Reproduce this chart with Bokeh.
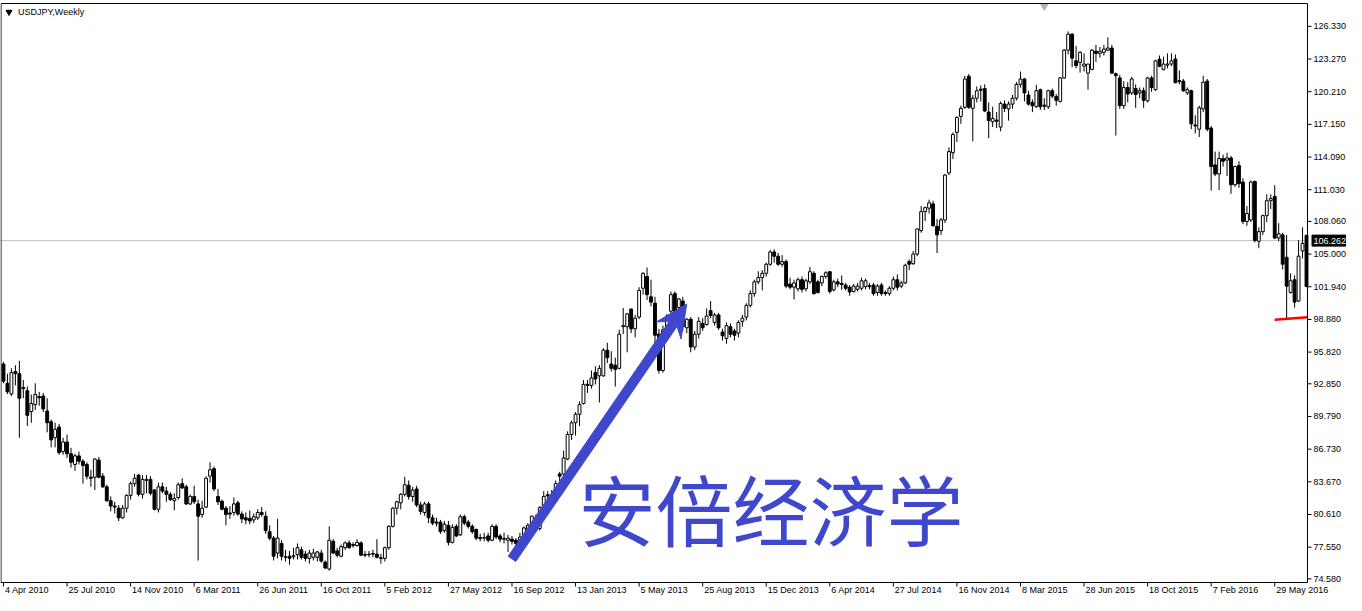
import math
from bokeh.plotting import figure
from bokeh.models import Range1d
from bokeh.core.properties import value
from bokeh.embed import file_html
from bokeh.resources import INLINE

# ---------------- data (USDJPY weekly) ----------------
opens = [
    94.7, 92.9, 91.9, 94.0, 93.8, 92.5, 92.2, 90.25, 90.9, 91.65,
    91.7, 90.3, 89.3, 87.8, 88.8, 86.5, 87.4, 86.3, 85.3, 86.1,
    85.6, 85.3, 84.1, 84.1, 85.7, 84.2, 83.2, 81.9, 81.4, 81.2,
    80.3, 81.2, 82.4, 83.5, 84.3, 82.5, 83.8, 83.9, 82.9, 81.1,
    83.2, 82.8, 82.5, 81.9, 82.2, 83.5, 83.2, 81.6, 82.3, 81.6,
    80.6, 81.3, 84.2, 84.9, 82.3, 81.85, 81.2, 80.75, 80.8, 81.7,
    80.65, 80.3, 80.25, 80.1, 80.3, 80.8, 80.45, 79.0, 78.4, 77.0,
    77.9, 76.65, 76.7, 76.65, 76.85, 77.3, 76.9, 76.5, 76.6, 76.6,
    77.0, 76.15, 75.5, 78.1, 77.2, 76.7, 77.5, 77.95, 77.7, 77.7,
    77.95, 76.85, 76.85, 76.95, 76.9, 76.55, 76.5, 77.5, 79.5, 81.2,
    81.7, 82.5, 83.35, 82.3, 83.0, 81.5, 80.8, 81.6, 80.3, 79.9,
    79.9, 79.1, 79.6, 78.0, 79.5, 78.7, 80.4, 79.9, 79.5, 79.2,
    78.45, 78.45, 78.6, 78.2, 79.5, 78.6, 78.35, 78.2, 78.3, 78.2,
    78.2, 78.5, 79.2, 79.6, 80.25, 79.3, 81.25, 82.45, 82.3, 82.5,
    84.4, 84.4, 85.8, 88.1, 89.2, 90.0, 91.0, 92.8, 92.7, 93.9,
    93.6, 93.6, 96.0, 94.7, 94.6, 94.3, 98.2, 98.2, 99.85, 98.0,
    99.1, 101.8, 102.9, 101.0, 100.4, 97.5, 94.1, 97.9, 99.65, 101.3,
    100.0, 100.6, 98.1, 98.9, 96.3, 97.5, 98.5, 98.4, 99.7, 98.6,
    99.3, 97.7, 97.1, 98.2, 97.8, 97.6, 98.7, 99.1, 100.2, 101.3,
    102.4, 102.8, 103.2, 104.05, 105.2, 104.8, 104.05, 104.3, 102.2, 101.9,
    101.75, 102.6, 101.75, 102.4, 103.2, 102.4, 102.3, 102.9, 103.35, 101.65,
    102.4, 102.25, 102.1, 101.9, 101.5, 101.7, 101.8, 101.95, 102.05, 102.1,
    101.4, 102.1, 101.4, 101.3, 101.8, 102.6, 102.0, 102.3, 104.3, 104.1,
    105.0, 107.2, 108.98, 109.3, 109.7, 107.6, 107.2, 108.2, 112.6, 114.5,
    116.4, 117.9, 118.75, 121.66, 118.65, 119.6, 120.45, 120.5, 118.3, 117.4,
    117.55, 116.9, 119.05, 118.6, 119.05, 119.6, 120.9, 121.4, 119.9, 119.2,
    118.8, 120.4, 118.95, 118.8, 120.3, 119.75, 119.3, 121.5, 124.1, 125.6,
    123.1, 122.95, 122.6, 121.95, 122.3, 124.0, 123.8, 123.9, 124.1, 124.3,
    121.9, 121.5, 118.9, 120.6, 120.1, 120.5, 120.1, 120.3, 119.35, 121.5,
    120.4, 123.25, 122.3, 122.7, 122.8, 123.27, 121.25, 121.2, 120.1, 120.3,
    117.1, 116.7, 118.6, 121.2, 116.8, 113.35, 112.5, 113.95, 113.8, 114.0,
    111.5, 113.3, 111.75, 108.05, 108.2, 111.8, 106.2, 107.1, 108.6, 110.0,
    110.4, 106.5, 106.8, 104.7, 101.4, 102.6, 100.6, 105.3, 106.76,
]
highs = [
    94.9, 93.8, 94.3, 94.6, 95.0, 93.2, 92.6, 91.85, 92.9, 92.1,
    92.0, 91.5, 89.5, 89.2, 89.1, 87.8, 88.1, 86.85, 86.3, 86.5,
    85.8, 85.5, 84.8, 85.9, 86.0, 84.5, 83.4, 82.3, 81.8, 81.5,
    81.5, 82.5, 83.7, 84.4, 84.4, 84.3, 84.3, 84.2, 83.0, 83.6,
    83.6, 83.2, 82.7, 82.6, 83.6, 84.0, 83.4, 82.5, 83.3, 82.0,
    81.9, 84.2, 85.5, 85.1, 83.0, 82.0, 81.4, 81.4, 82.2, 81.9,
    80.9, 80.8, 81.0, 80.7, 81.1, 81.3, 80.9, 79.6, 78.6, 80.2,
    78.2, 77.3, 77.2, 77.5, 77.9, 77.6, 77.2, 77.3, 77.4, 77.2,
    77.3, 76.3, 79.5, 78.3, 77.5, 77.8, 78.1, 78.2, 78.0, 78.3,
    78.1, 77.2, 77.2, 77.3, 78.3, 76.9, 77.6, 79.6, 81.3, 81.9,
    82.6, 84.15, 83.8, 83.2, 83.3, 81.8, 81.8, 81.8, 80.6, 80.3,
    80.1, 80.0, 80.0, 79.7, 79.7, 80.6, 80.6, 80.1, 79.7, 79.3,
    78.8, 78.9, 78.9, 79.7, 79.7, 78.8, 78.9, 78.7, 78.6, 78.4,
    78.9, 79.5, 79.8, 80.5, 80.6, 81.4, 82.8, 82.8, 82.9, 83.8,
    84.6, 86.6, 88.4, 89.4, 90.2, 91.2, 93.2, 93.2, 94.1, 94.5,
    94.6, 96.2, 96.7, 95.9, 95.3, 97.9, 99.95, 99.5, 99.9, 99.3,
    101.9, 103.3, 103.75, 102.6, 101.0, 98.0, 98.3, 99.4, 101.5, 101.5,
    100.9, 101.0, 99.0, 99.1, 97.8, 99.1, 99.0, 99.9, 100.6, 99.5,
    99.5, 98.0, 98.6, 98.5, 98.0, 98.8, 99.3, 100.4, 101.6, 102.6,
    103.4, 103.5, 104.2, 105.4, 105.45, 105.1, 104.9, 104.5, 102.8, 102.6,
    102.8, 102.9, 102.7, 103.8, 103.4, 102.6, 103.0, 103.4, 103.4, 102.6,
    102.7, 103.0, 102.3, 102.1, 102.2, 102.3, 102.8, 102.7, 102.3, 102.3,
    102.2, 102.3, 101.6, 102.0, 102.9, 103.1, 102.5, 104.1, 104.5, 105.3,
    107.4, 109.5, 109.45, 110.1, 110.0, 108.3, 108.4, 112.5, 115.0, 116.4,
    117.9, 118.9, 121.7, 121.86, 119.9, 120.7, 120.8, 120.9, 119.2, 118.8,
    118.3, 119.3, 119.4, 119.3, 119.9, 121.1, 122.1, 121.5, 120.3, 119.5,
    120.85, 120.5, 119.6, 120.4, 120.5, 120.0, 121.6, 124.2, 125.86, 125.7,
    124.5, 124.0, 123.8, 122.8, 124.2, 124.6, 124.4, 124.6, 125.3, 124.6,
    122.0, 121.8, 121.2, 121.1, 121.6, 120.9, 120.6, 120.6, 121.6, 121.7,
    123.2, 123.6, 123.5, 123.8, 123.8, 123.7, 122.2, 121.4, 120.6, 120.4,
    118.0, 118.9, 121.7, 121.4, 117.0, 114.6, 114.6, 114.3, 114.5, 114.2,
    113.3, 113.7, 112.1, 109.5, 111.9, 111.9, 107.5, 108.7, 110.6, 110.6,
    111.45, 107.9, 107.0, 106.8, 103.2, 103.0, 106.3, 107.5, 106.8,
]
lows = [
    92.9, 91.9, 91.7, 92.7, 87.8, 91.5, 88.9, 89.2, 90.4, 90.8,
    90.2, 88.3, 86.9, 86.9, 86.2, 86.2, 85.9, 85.0, 84.7, 85.3,
    83.5, 83.9, 83.2, 82.9, 84.0, 83.1, 81.8, 80.9, 80.7, 80.0,
    80.2, 80.8, 82.0, 83.2, 82.3, 82.1, 82.6, 82.4, 81.0, 80.8,
    82.6, 81.8, 81.9, 81.0, 82.0, 83.0, 81.5, 81.5, 81.6, 76.3,
    80.3, 81.2, 83.6, 82.8, 81.5, 81.0, 79.6, 80.2, 80.5, 80.5,
    79.8, 79.7, 79.7, 79.8, 80.1, 80.4, 78.8, 78.2, 76.3, 76.5,
    76.3, 76.2, 75.9, 76.4, 76.4, 76.4, 76.2, 76.0, 76.3, 76.2,
    76.1, 75.5, 75.35, 76.9, 76.6, 76.6, 77.3, 77.4, 77.5, 77.6,
    76.7, 76.6, 76.6, 76.6, 76.5, 76.0, 76.2, 77.3, 79.4, 80.6,
    81.1, 82.3, 82.0, 81.8, 81.3, 80.6, 80.5, 79.8, 79.6, 79.5,
    78.8, 78.9, 77.7, 77.9, 78.5, 78.6, 79.6, 79.3, 78.8, 78.2,
    78.1, 78.1, 78.0, 78.1, 78.3, 78.0, 77.9, 77.1, 77.8, 77.5,
    77.9, 78.2, 78.8, 79.4, 79.4, 79.1, 81.0, 82.0, 81.7, 82.4,
    83.7, 84.3, 85.7, 87.6, 88.0, 88.9, 90.9, 92.0, 92.4, 92.8,
    91.1, 93.5, 94.8, 94.0, 92.6, 94.2, 97.5, 95.8, 97.6, 97.2,
    98.9, 101.2, 100.7, 100.1, 95.95, 93.8, 93.9, 97.3, 99.4, 99.0,
    99.5, 97.8, 97.6, 95.8, 96.0, 97.1, 97.8, 98.3, 99.0, 98.3,
    97.9, 96.9, 96.6, 97.2, 96.9, 97.2, 98.2, 98.8, 100.0, 101.0,
    102.2, 101.6, 102.9, 103.9, 104.2, 103.9, 103.8, 101.8, 101.7, 100.75,
    101.5, 101.4, 101.5, 102.2, 101.2, 101.3, 102.0, 102.7, 101.3, 101.5,
    101.9, 101.65, 101.6, 101.1, 101.4, 101.5, 101.6, 101.7, 101.7, 101.1,
    101.1, 101.1, 101.1, 101.1, 101.6, 101.6, 101.8, 102.2, 103.5, 104.0,
    104.8, 107.0, 108.1, 108.8, 107.6, 105.1, 106.8, 107.9, 112.4, 113.9,
    115.5, 117.2, 118.6, 118.6, 115.57, 119.2, 119.3, 118.3, 115.86, 116.9,
    116.8, 116.5, 118.3, 117.5, 118.6, 119.4, 120.6, 119.3, 118.9, 118.3,
    118.7, 118.5, 118.5, 118.6, 119.6, 118.9, 119.2, 121.4, 123.7, 122.5,
    122.4, 122.0, 122.1, 120.4, 122.2, 123.0, 123.4, 123.6, 124.0, 121.9,
    116.1, 118.6, 118.6, 119.2, 119.9, 118.7, 119.6, 118.7, 119.2, 120.2,
    120.3, 122.5, 122.2, 122.4, 122.6, 121.0, 120.9, 120.2, 119.9, 116.7,
    116.3, 115.97, 118.3, 116.5, 110.95, 112.3, 111.0, 113.2, 112.3, 110.65,
    111.3, 111.2, 107.8, 107.65, 108.0, 106.1, 105.55, 106.8, 108.0, 109.2,
    106.4, 106.2, 103.55, 98.88, 101.3, 99.98, 100.5, 104.6, 101.9,
]
closes = [
    93.1, 92.1, 93.9, 93.8, 91.5, 92.4, 89.9, 91.0, 91.85, 91.55,
    90.5, 89.2, 87.6, 88.6, 86.4, 87.4, 86.3, 85.5, 86.1, 85.6,
    85.2, 84.2, 84.0, 85.8, 84.1, 83.2, 81.9, 81.4, 81.3, 80.3,
    81.2, 82.4, 83.5, 84.0, 82.5, 83.9, 83.9, 82.6, 81.1, 83.2,
    82.8, 82.5, 82.0, 82.1, 83.4, 83.1, 81.6, 82.3, 81.8, 80.45,
    81.2, 84.0, 84.8, 83.0, 81.8, 81.1, 80.6, 80.65, 81.6, 80.65,
    80.2, 80.1, 80.0, 80.4, 80.8, 80.6, 79.1, 78.4, 76.7, 78.4,
    76.7, 76.6, 76.5, 76.75, 77.5, 76.6, 76.5, 77.0, 77.0, 77.1,
    76.25, 75.6, 78.2, 77.0, 76.8, 77.6, 77.95, 77.5, 77.8, 78.0,
    76.8, 76.8, 76.9, 76.9, 76.6, 76.5, 77.5, 79.5, 81.2, 81.8,
    82.5, 83.4, 82.3, 82.9, 81.5, 80.9, 81.6, 80.3, 79.8, 79.8,
    79.0, 79.7, 78.0, 79.4, 78.6, 80.4, 79.8, 79.5, 79.0, 78.4,
    78.35, 78.4, 78.2, 79.5, 78.5, 78.3, 78.3, 78.4, 78.1, 77.9,
    78.5, 79.35, 79.6, 80.45, 79.6, 81.25, 82.3, 82.35, 82.5, 83.5,
    84.2, 85.9, 88.1, 89.2, 90.0, 90.9, 92.8, 92.7, 93.4, 93.3,
    94.3, 96.0, 95.3, 94.3, 94.2, 97.5, 98.3, 99.4, 98.0, 99.0,
    101.6, 103.2, 101.2, 100.5, 97.4, 94.1, 97.9, 99.2, 101.2, 99.65,
    100.8, 98.2, 98.9, 96.3, 97.5, 98.7, 98.1, 99.2, 99.25, 99.3,
    98.1, 97.35, 98.3, 97.5, 97.4, 98.6, 99.0, 100.2, 101.3, 102.4,
    102.8, 103.2, 104.05, 105.2, 104.8, 104.05, 104.3, 102.0, 101.9, 102.3,
    102.6, 101.7, 102.5, 103.35, 101.3, 101.4, 102.9, 103.25, 101.5, 102.4,
    102.2, 102.15, 101.8, 101.45, 102.0, 102.0, 102.5, 102.5, 101.95, 101.3,
    102.0, 101.3, 101.3, 101.8, 102.6, 101.9, 102.3, 103.95, 104.05, 105.0,
    107.35, 108.98, 109.35, 109.8, 107.65, 106.8, 108.2, 112.4, 114.6, 116.2,
    117.8, 118.65, 121.4, 118.75, 119.6, 120.3, 120.35, 118.4, 117.5, 117.7,
    117.45, 119.1, 118.65, 119.05, 119.6, 120.9, 121.4, 120.1, 119.05, 118.9,
    120.3, 118.8, 118.85, 120.3, 119.8, 119.4, 121.5, 124.1, 125.6, 123.35,
    122.65, 123.9, 122.8, 122.8, 124.1, 123.8, 124.0, 124.2, 124.3, 121.95,
    121.7, 118.9, 120.6, 120.0, 121.4, 119.95, 120.3, 119.4, 121.5, 120.6,
    123.1, 122.6, 122.8, 122.8, 123.1, 121.05, 121.15, 120.3, 120.4, 117.2,
    117.0, 118.7, 121.1, 116.7, 113.2, 112.5, 113.95, 113.7, 114.0, 111.5,
    113.2, 111.6, 108.05, 108.8, 111.75, 106.27, 107.1, 108.6, 110.0, 110.2,
    106.5, 106.9, 104.05, 102.0, 102.5, 100.5, 104.8, 106.0, 101.96,
]

# every 16th bar carries a date label
tick_bars = [0, 16, 32, 48, 64, 80, 96, 112, 128, 144, 160, 176, 192, 208,
             224, 240, 256, 272, 288, 304, 320]
tick_labels = ["4 Apr 2010", "25 Jul 2010", "14 Nov 2010", "6 Mar 2011",
               "26 Jun 2011", "16 Oct 2011", "5 Feb 2012", "27 May 2012",
               "16 Sep 2012", "13 Jan 2013", "5 May 2013", "25 Aug 2013",
               "15 Dec 2013", "6 Apr 2014", "27 Jul 2014", "16 Nov 2014",
               "8 Mar 2015", "28 Jun 2015", "18 Oct 2015", "7 Feb 2016",
               "29 May 2016"]
price_ticks = [126.330, 123.270, 120.210, 117.150, 114.090, 111.030, 108.060,
               105.000, 101.940, 98.880, 95.820, 92.850, 89.790, 86.730,
               83.670, 80.610, 77.550, 74.580]
last_price = 106.262
title_text = "USDJPY,Weekly"
note_text = "安倍经济学"
# -------------------------------------------------------------------------

W, H = 1346, 595
SX = 1307.0 / 1316.0          # squeeze of the MT4 layout into the page
SY = 579.0 / 587.0
PXB = 4.0 * SX                # px per weekly bar
PYU = 10.824 * SY             # px per yen


def mx2d(mx):                 # page px (x) -> bar coordinate
    return (mx - 3.0 * SX) / PXB


def my2d(my):                 # page px (y) -> price coordinate
    ry = 3.0 + (my - 3.0) / SY
    return 123.27 - (ry - 59.3) / 10.824


def rx(px):                   # MT4 layout px -> page px
    return px * SX


def ry(py):
    return 3.0 + (py - 3.0) * SY


X0, X1 = mx2d(0), mx2d(W)
Y1, Y0 = my2d(0), my2d(H)
R = rx(1316.0)                # price axis line
B = ry(590.0)                 # bottom frame line
T = ry(3.0)                   # top frame line

p = figure(width=W, height=H, output_backend="svg", toolbar_location=None,
           x_range=Range1d(X0, X1), y_range=Range1d(Y0, Y1),
           x_axis_location=None, y_axis_location=None, min_border=0,
           background_fill_color="white", border_fill_color="white")
p.outline_line_color = None
p.grid.visible = False

n = len(closes)
idx = list(range(n))

# current bid line
p.segment(x0=[mx2d(0)], y0=[last_price], x1=[mx2d(R)], y1=[last_price],
          line_color="#c0c0c0", line_width=1)

# candles
body_top = [max(o, c) for o, c in zip(opens, closes)]
body_bot = [min(o, c) for o, c in zip(opens, closes)]
fills = ["white" if c >= o else "black" for o, c in zip(opens, closes)]
p.segment(x0=idx, y0=lows, x1=idx, y1=highs, line_color="black", line_width=1)
p.vbar(x=idx, width=0.72, top=body_top, bottom=body_bot, fill_color=fills,
       line_color="black", line_width=1)

# red stroke at the Brexit low
p.line(x=[mx2d(rx(1283)), mx2d(rx(1316))],
       y=[my2d(ry(323.5)), my2d(ry(321))],
       line_color="#ff0000", line_width=2.5)

# blue arrow (Abenomics)
tail = (rx(515), ry(566))
tip = (rx(691), ry(307.7))
dx, dy = tip[0] - tail[0], tip[1] - tail[1]
L = math.hypot(dx, dy)
ux, uy = dx / L, dy / L
nx, ny = -uy, ux
hw, wing_back, wing_w, notch_back = 4.6, 32.0, 15.0, 24.0


def pt(base, back, side):
    return (base[0] - back * ux + side * nx, base[1] - back * uy + side * ny)


poly = [pt(tail, 0, hw), pt(tip, notch_back, hw), pt(tip, wing_back, wing_w),
        tip, pt(tip, wing_back, -wing_w), pt(tip, notch_back, -hw),
        pt(tail, 0, -hw)]
p.patch(x=[mx2d(q[0]) for q in poly], y=[my2d(q[1]) for q in poly],
        fill_color="#3f48cc", line_color="#3f48cc", line_width=1)

p.text(x=[mx2d(rx(585) - 3)], y=[my2d(ry(514))], text=[note_text],
       text_font=value("Noto Sans CJK SC"), text_font_size="77px",
       text_color="#3f48cc", text_baseline="middle", text_align="left")

# frame lines
p.segment(x0=[mx2d(0.5), mx2d(0.5), mx2d(0), mx2d(R)],
          y0=[my2d(T), my2d(T), my2d(B), my2d(T)],
          x1=[mx2d(R), mx2d(0.5), mx2d(R), mx2d(R)],
          y1=[my2d(T), my2d(B), my2d(B), my2d(B)],
          line_color="black", line_width=1)

# title and small markers
p.scatter(x=[mx2d(8.5)], y=[my2d(11.5)], marker="inverted_triangle", size=6,
          color="black")
p.text(x=[mx2d(17.5)], y=[my2d(11.5)], text=[title_text],
       text_font=value("Liberation Sans"), text_font_size="9px",
       text_color="black", text_baseline="middle", text_align="left")
p.scatter(x=[mx2d(rx(1051))], y=[my2d(T + 3)], marker="inverted_triangle",
          size=7, color="#b4b4b4")

# price scale (right)
p.segment(x0=[mx2d(R)] * len(price_ticks), y0=price_ticks,
          x1=[mx2d(R + 4)] * len(price_ticks), y1=price_ticks,
          line_color="black", line_width=1)
p.text(x=[mx2d(R + 6)] * len(price_ticks), y=price_ticks,
       text=["%.3f" % v for v in price_ticks],
       text_font=value("Liberation Sans"), text_font_size="9px",
       text_color="black", text_baseline="middle", text_align="left")

# bid price box
box_c = 3.0 + (59.3 + (123.27 - last_price) * 10.824 - 3.0) * SY
p.quad(left=[mx2d(R + 4.5)], right=[mx2d(W)], top=[my2d(box_c - 5.5)],
       bottom=[my2d(box_c + 5.5)], fill_color="black", line_color="black")
p.text(x=[mx2d(R + 6)], y=[last_price], text=["%.3f" % last_price],
       text_font=value("Liberation Sans"), text_font_size="9px",
       text_color="white", text_baseline="middle", text_align="left")

# time scale (bottom)
p.segment(x0=tick_bars, y0=[my2d(B)] * len(tick_bars),
          x1=tick_bars, y1=[my2d(B + 4)] * len(tick_bars),
          line_color="black", line_width=1)
p.text(x=[b + 1.5 / PXB for b in tick_bars], y=[my2d(589.5)] * len(tick_bars),
       text=tick_labels, text_font=value("Liberation Sans"),
       text_font_size="9px", text_color="black", text_baseline="middle",
       text_align="left")

open("out.html", "w").write(file_html(p, INLINE))
